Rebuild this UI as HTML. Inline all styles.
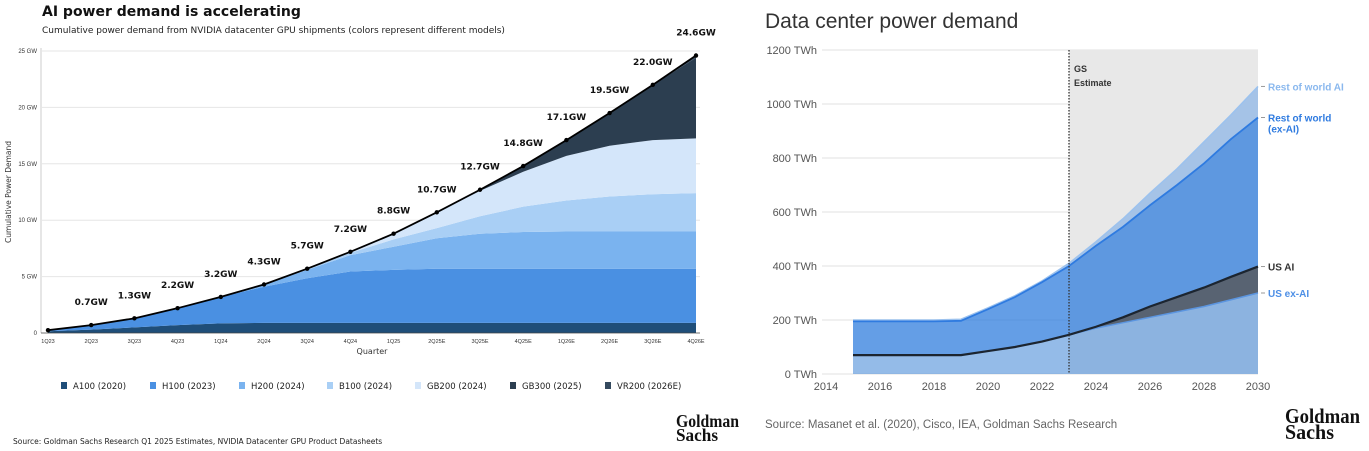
<!DOCTYPE html>
<html><head><meta charset="utf-8"><style>
body{margin:0;width:1369px;height:451px;background:#fff;overflow:hidden;font-family:"Liberation Sans","DejaVu Sans",sans-serif}
svg{position:absolute;left:0;top:0}
</style></head><body>
<svg id="c" width="1369" height="451">
<text x="42" y="16" font-size="14" font-weight="bold" fill="#111" font-family="DejaVu Sans, sans-serif">AI power demand is accelerating</text>
<text x="42" y="33" font-size="9" fill="#222" font-family="DejaVu Sans, sans-serif">Cumulative power demand from NVIDIA datacenter GPU shipments (colors represent different models)</text>
<text x="13" y="444" font-size="7.5" fill="#222" font-family="DejaVu Sans, sans-serif">Source: Goldman Sachs Research Q1 2025 Estimates, NVIDIA Datacenter GPU Product Datasheets</text>
<text x="676" y="427" font-size="18" font-weight="bold" fill="#111" font-family="Liberation Serif, serif" textLength="63" lengthAdjust="spacingAndGlyphs">Goldman</text>
<text x="676" y="441" font-size="18" font-weight="bold" fill="#111" font-family="Liberation Serif, serif" textLength="42" lengthAdjust="spacingAndGlyphs">Sachs</text>
<text x="765" y="28" font-size="21" fill="#333">Data center power demand</text>
<text x="765" y="428" font-size="11.5" fill="#666">Source: Masanet et al. (2020), Cisco, IEA, Goldman Sachs Research</text>
<text x="1285" y="423" font-size="21" font-weight="bold" fill="#111" font-family="Liberation Serif, serif" textLength="75" lengthAdjust="spacingAndGlyphs">Goldman</text>
<text x="1285" y="439" font-size="21" font-weight="bold" fill="#111" font-family="Liberation Serif, serif" textLength="49" lengthAdjust="spacingAndGlyphs">Sachs</text>
<g id="L"></g><g id="R"></g>
</svg>
<script>
// ---- left chart data ----
const quarters=["1Q23","2Q23","3Q23","4Q23","1Q24","2Q24","3Q24","4Q24","1Q25","2Q25E","3Q25E","4Q25E","1Q26E","2Q26E","3Q26E","4Q26E"];
const a100=[0.15,0.3,0.5,0.7,0.85,0.9,0.9,0.9,0.9,0.9,0.9,0.9,0.9,0.9,0.9,0.9];
const h100Top=[0.2,0.7,1.3,2.2,3.2,4.1,4.85,5.45,5.6,5.7,5.7,5.7,5.7,5.7,5.7,5.7];
const h200Top=[0.2,0.7,1.3,2.2,3.2,4.3,5.6,6.9,7.65,8.4,8.8,8.95,9.0,9.0,9.0,9.0];
const b100Top=[0.2,0.7,1.3,2.2,3.2,4.3,5.7,7.1,8.3,9.3,10.35,11.2,11.75,12.1,12.3,12.4];
const gb200Top=[0.2,0.7,1.3,2.2,3.2,4.3,5.7,7.2,8.8,10.7,12.6,14.3,15.7,16.6,17.1,17.25];
const gb300Top=[0.2,0.7,1.3,2.2,3.2,4.3,5.7,7.2,8.8,10.7,12.7,14.8,17.1,19.5,22.0,24.4];
const total=[0.25,0.7,1.3,2.2,3.2,4.3,5.7,7.2,8.8,10.7,12.7,14.8,17.1,19.5,22.0,24.6];
const totalLabels=["","0.7GW","1.3GW","2.2GW","3.2GW","4.3GW","5.7GW","7.2GW","8.8GW","10.7GW","12.7GW","14.8GW","17.1GW","19.5GW","22.0GW","24.6GW"];
const yTicksL=[0,5,10,15,20,25];
const legendNames=["A100 (2020)","H100 (2023)","H200 (2024)","B100 (2024)","GB200 (2024)","GB300 (2025)","VR200 (2026E)"];
// ---- right chart data ----
const years=[2015,2016,2017,2018,2019,2020,2021,2022,2023,2024,2025,2026,2027,2028,2029,2030];
const usExAI=[70,70,70,70,70,85,100,120,145,170,190,210,230,250,275,300];
const usAITop=[70,70,70,70,70,85,100,120,145,175,210,250,285,320,360,398];
const rowExAITop=[195,195,195,195,197,240,285,340,400,475,545,625,700,780,870,950];
const rowAITop=[200,200,200,200,203,245,290,345,410,490,575,670,760,860,960,1065];
const yTicksR=[0,200,400,600,800,1000,1200];
const xTicksR=[2014,2016,2018,2020,2022,2024,2026,2028,2030];

const NS="http://www.w3.org/2000/svg";
function mk(p,t,a){const e=document.createElementNS(NS,t);for(const k in a)e.setAttribute(k,a[k]);p.appendChild(e);return e;}
const L=document.getElementById('L'),R=document.getElementById('R');
const lx=i=>48+i*(696-48)/(quarters.length-1), ly=v=>333-v*(333-51)/25;
yTicksL.forEach(v=>{
  if(v>0){const g=mk(L,'line',{x1:42,x2:700,y1:ly(v),y2:ly(v),stroke:'#e6e6e6','stroke-width':1});
  
  }
  const t=mk(L,'text',{x:37,y:ly(v)+2,'font-size':6,'text-anchor':'end',fill:'#333'});t.textContent=v?v+' GW':'0';
  
  
});
mk(L,'line',{x1:41,x2:41,y1:48,y2:333,stroke:'#ccc'});
const zero=quarters.map(()=>0);
const cumA=a100;
const layers=[[zero,cumA,'#1f4e79'],[cumA,h100Top,'#4a90e2'],[h100Top,h200Top,'#7ab3ef'],[h200Top,b100Top,'#a9cff5'],[b100Top,gb200Top,'#d4e6fa'],[gb200Top,gb300Top,'#2c3e50'],[gb300Top,total,'#34495e']];
const colorsL=layers.map(l=>l[2]);
layers.forEach((l,k)=>{
  let d='M'+l[1].map((v,i)=>lx(i)+','+ly(v)).join('L');
  for(let i=l[0].length-1;i>=0;i--)d+='L'+lx(i)+','+ly(l[0][i]);
  const p=mk(L,'path',{d:d+'Z',fill:l[2]});
  
  
});
mk(L,'line',{x1:41,x2:700,y1:333,y2:333,stroke:'#444','stroke-width':0.8});
const tl=mk(L,'path',{d:'M'+total.map((v,i)=>lx(i)+','+ly(v)).join('L'),fill:'none',stroke:'#000','stroke-width':1.8});


total.forEach((v,i)=>{
  const c=mk(L,'circle',{cx:lx(i),cy:ly(v),r:2.2,fill:'#000'});
  
  
  if(totalLabels[i]){const t=mk(L,'text',{x:lx(i),y:ly(v)-20,'font-size':9,'font-weight':'bold','text-anchor':'middle',fill:'#111','font-family':'DejaVu Sans, sans-serif'});t.textContent=totalLabels[i];
  
  }
  const q=mk(L,'text',{x:lx(i),y:343,'font-size':5.5,'text-anchor':'middle',fill:'#333'});q.textContent=quarters[i];
  
  
});
let t=mk(L,'text',{x:372,y:354,'font-size':8,'text-anchor':'middle',fill:'#333','font-family':'DejaVu Sans, sans-serif'});t.textContent='Quarter';


t=mk(L,'text',{x:0,y:0,'font-size':7.5,'text-anchor':'middle',fill:'#333',transform:'translate(11,192) rotate(-90)','font-family':'DejaVu Sans, sans-serif'});t.textContent='Cumulative Power Demand';


const lgx=[61,150,239,327,415,510,605];
legendNames.forEach((n,i)=>{
  const r=mk(L,'rect',{x:lgx[i],y:382,width:6,height:7,fill:colorsL[i]});
  
  
  const tt=mk(L,'text',{x:lgx[i]+12,y:389,'font-size':8.5,fill:'#222','font-family':'DejaVu Sans, sans-serif'});tt.textContent=n;
  
  
});
const rx=y=>826+(y-2014)*(1258-826)/16, ry=v=>374-v*(374-50)/1200;
yTicksR.forEach(v=>{
  const g=mk(R,'line',{x1:822,x2:1258,y1:ry(v),y2:ry(v),stroke:'#e8e8e8','stroke-width':1.2});
  
  
  const tt=mk(R,'text',{x:817,y:ry(v)+4,'font-size':11,'text-anchor':'end',fill:'#555'});tt.textContent=v+' TWh';
  
  
});
xTicksR.forEach(y=>{
  const tt=mk(R,'text',{x:rx(y),y:390,'font-size':11,'text-anchor':'middle',fill:'#555'});tt.textContent=y;
  
  
});
const est=mk(R,'rect',{x:rx(2023),y:50,width:rx(2030)-rx(2023),height:324,fill:'#e8e8e8'});


const z2=years.map(()=>0);
const rl=[[z2,usExAI,'rgba(90,150,220,0.65)','us-ex-ai-area'],[usExAI,usAITop,'rgba(40,55,75,0.75)','us-ai-area'],[usAITop,rowExAITop,'rgba(40,120,220,0.72)','row-ex-ai-area'],[rowExAITop,rowAITop,'rgba(120,170,230,0.6)','row-ai-area']];
rl.forEach(l=>{
  let d='M'+l[1].map((v,i)=>rx(years[i])+','+ry(v)).join('L');
  for(let i=years.length-1;i>=0;i--)d+='L'+rx(years[i])+','+ry(l[0][i]);
  const p=mk(R,'path',{d:d+'Z',fill:l[2]});
  
  
});
[[usExAI,'#5b95e0',1.5],[rowAITop,'#9cc2ee',1.5],[rowExAITop,'#2f7be0',1.8],[usAITop,'#1c2530',2.2]].forEach(s=>{
  const p=mk(R,'path',{d:'M'+s[0].map((v,i)=>rx(years[i])+','+ry(v)).join('L'),fill:'none',stroke:s[1],'stroke-width':s[2]});
  
  
});
const dl=mk(R,'line',{x1:rx(2023),x2:rx(2023),y1:50,y2:374,stroke:'#333','stroke-width':1.3,'stroke-dasharray':'1.5,1.5'});


[['GS',72],['Estimate',86]].forEach(a=>{const tt=mk(R,'text',{x:1074,y:a[1],'font-size':9,'font-weight':'bold',fill:'#333'});tt.textContent=a[0];

});
const rlab=[["Rest of world AI",rowAITop,'#8ab8ee',0],["Rest of world",rowExAITop,'#2f7be0',0],["(ex-AI)",rowExAITop,'#2f7be0',11],["US AI",usAITop,'#333',0],["US ex-AI",usExAI,'#4d8fe6',0]];
rlab.forEach(a=>{
  const v=a[1][a[1].length-1];
  if(!a[3]){const d=mk(R,'line',{x1:1261,x2:1265,y1:ry(v),y2:ry(v),stroke:'#999'});
  
  }
  const tt=mk(R,'text',{x:1268,y:ry(v)+4+a[3],'font-size':10,'font-weight':'bold',fill:a[2]});tt.textContent=a[0];
  
  
});
</script>
</body></html>
